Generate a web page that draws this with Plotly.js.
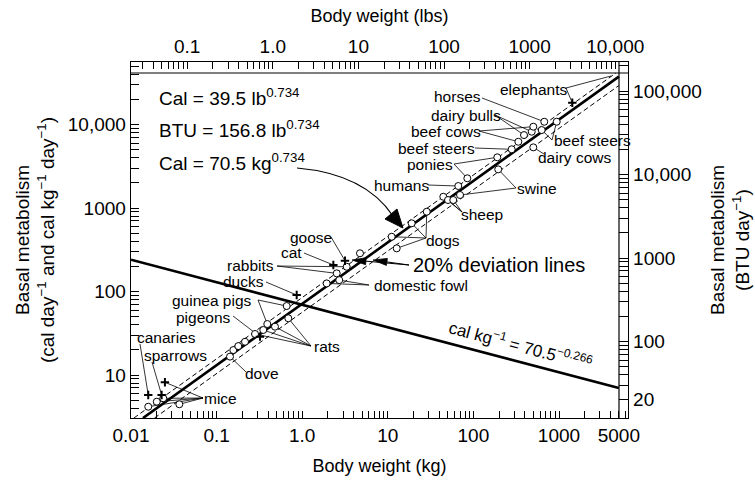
<!DOCTYPE html>
<html><head><meta charset="utf-8">
<script src="https://cdn.plot.ly/plotly-3.0.1.min.js"></script>
<style>body{margin:0;background:#fff}#c{width:755px;height:486px}</style>
</head><body><div id="c"></div>
<script>
// ---- data (kg body weight, kcal/day) ----
const circleKg  = [0.0159,0.0200,0.0238,0.0367,0.1434,0.1567,0.1792,0.2148,0.281,0.351,0.391,0.481,0.659,0.688,1.93,2.53,2.71,3.31,4.73,11.1,12.7,19.0,28.5,44.5,50.5,58.2,69.8,66.6,84.9,190,195,280,335,390,480,501,673,628,940,501];
const circleCal = [4.17,4.79,5.26,4.46,16.6,19.9,22.2,25.0,31.0,34.6,40.8,37.9,67.0,47.8,125,165,137,198,287,453,329,656,903,1365,1247,1247,1432,1834,2270,4050,2904,5050,6220,7480,8200,9420,10800,8590,10800,5330];
const crossKg  = [0.0159,0.0228,0.0249,0.321,0.862,2.31,3.16,1430];
const crossCal = [5.76,5.76,8.18,28.8,90.8,208,234,18200];
const fitKg = [0.0138,5000], fitCal = [3.05,37500];
const upperKg = [0.0108,4620], upperCal = [3.05,41400];
const lowerKg = [0.0188,5000], lowerCal = [3.05,29300];
const perKgKg = [0.01,5000], perKgCal = [240,7.0];
const kgTickVals = [0.01,0.1,1,10,100,1000,5000];
const kgTickText = ['0.01','0.1','1.0','10','100','1000','5000'];
const lbTickVals = [0.1,1,10,100,1000,10000];
const lbTickText = ['0.1','1.0','10','100','1000','10,000'];
const calTickVals = [10,100,1000,10000];
const calTickText = ['10','100','1000','10,000'];
const btuTickVals = [20,100,1000,10000,100000];
const btuTickText = ['20','100','1000','10,000','100,000'];
const animalNames = ['elephants','horses','dairy bulls','beef cows','beef steers','ponies','humans','swine','sheep','dogs','beef steers','dairy cows','goose','cat','rabbits','ducks','domestic fowl','guinea pigs','pigeons','rats','canaries','sparrows','dove','mice'];

// ---- layout geometry ----
const PX0=131, PX1=628, PY0=62, PY1=418;
const XR=[-2,3.806], YR=[0.485,4.749];
const LB=Math.log10(2.2046), BTU=Math.log10(3.968);
const xp=px=>(px-PX0)/(PX1-PX0), yp=py=>(PY1-py)/(PY1-PY0);
const vx=px=>Math.pow(10,XR[0]+(px-PX0)/(PX1-PX0)*(XR[1]-XR[0]));
const vy=py=>Math.pow(10,YR[1]-(py-PY0)/(PY1-PY0)*(YR[1]-YR[0]));
const FONT='Liberation Sans, Arial, Helvetica, sans-serif';

function minorTicks(lo,hi,vals,texts){
  const tv=[],tt=[];
  for(let e=lo;e<=hi;e++){for(let m=1;m<10;m++){const v=m*Math.pow(10,e);
    const i=vals.findIndex(a=>Math.abs(a-v)/v<1e-6);
    tv.push(v);tt.push(i>=0?texts[i]:'');}}
  vals.forEach((v,i)=>{if(!tv.some(a=>Math.abs(a-v)/v<1e-6)){tv.push(v);tt.push(texts[i]);}});
  return [tv,tt];
}
const [kx,kt]=minorTicks(-2,3,kgTickVals,kgTickText);
const [bx,bt]=minorTicks(-2,4,lbTickVals,lbTickText);
const [cy,ct]=minorTicks(0,4,calTickVals,calTickText);
const [uy,ut]=minorTicks(1,5,btuTickVals,btuTickText);

const traces=[
 {x:perKgKg,y:perKgCal,mode:'lines',line:{color:'#000',width:2.6},hoverinfo:'skip'},
 {x:upperKg,y:upperCal,mode:'lines',line:{color:'#000',width:1,dash:'5px,3px'},hoverinfo:'skip'},
 {x:lowerKg,y:lowerCal,mode:'lines',line:{color:'#000',width:1,dash:'5px,3px'},hoverinfo:'skip'},
 {x:fitKg,y:fitCal,mode:'lines',line:{color:'#000',width:2.6},hoverinfo:'skip'},
 {x:circleKg,y:circleCal,mode:'markers',marker:{symbol:'circle',size:7,color:'#fff',line:{color:'#000',width:1}}},
 {x:crossKg,y:crossCal,mode:'markers',marker:{symbol:'cross-thin',size:6,color:'#000',line:{color:'#000',width:2}}},
 {x:[lbTickVals[0]],y:[btuTickVals[1]],xaxis:'x2',yaxis:'y2',mode:'markers',marker:{opacity:0},hoverinfo:'skip'}
];

// label positions (px centres) and leader lines [tailX, tailY, 'c'|'x', index]
const labelPos=[[533,89],[457,97],[466,115],[446,131],[436,148],[430,164],[401,185],[537,188],[482,214],[443,240],[592,140],[574,157],[311,237],[291,253],[250,265],[243,281],[421,285],[212,300],[203,317],[327,346],[166,337],[175,355],[262,373],[220,398]];
const leaders=[[566,88,'x',7],[566,88,'x',7],[482,98,'c',36],[495,115,'c',33],[495,115,'c',34],[479,131,'c',32],[479,131,'c',35],[475,148,'c',31],
 [454,164,'c',28],[454,164,'c',29],[428,185,'c',27],[516,188,'c',30],[516,188,'c',26],[462,212,'c',23],[462,212,'c',24],[462,212,'c',25],
 [426,238,'c',19],[426,238,'c',20],[426,238,'c',21],[426,238,'c',22],[552,140,'c',37],[552,140,'c',38],[544,154,'c',39],
 [331,237,'x',6],[304,253,'x',5],[277,266,'c',15],[277,266,'c',17],[266,282,'x',4],[369,285,'c',14],[369,285,'c',16],
 [258,300,'c',10],[258,300,'c',12],[233,316,'x',3],[311,346,'c',8],[311,346,'c',9],[311,346,'c',11],[311,346,'c',13],
 [140,344,'x',0],[152,362,'x',1],[246,372,'c',4],[203,398,'c',0],[203,398,'c',1],[203,398,'c',2],[203,398,'c',3],[203,398,'x',2]];

const ann=[];
animalNames.forEach((n,i)=>ann.push({xref:'paper',yref:'paper',x:xp(labelPos[i][0]),y:yp(labelPos[i][1]),xanchor:'center',yanchor:'middle',text:n,showarrow:false,font:{size:15.5,color:'#000',family:FONT}}));
[['Cal = 39.5 lb<sup>0.734</sup>',97],['BTU = 156.8 lb<sup>0.734</sup>',129],['Cal = 70.5 kg<sup>0.734</sup>',162]].forEach(e=>
 ann.push({xref:'paper',yref:'paper',x:xp(157),y:yp(e[1]),xanchor:'left',yanchor:'middle',text:e[0],showarrow:false,font:{size:19,color:'#000',family:FONT}}));
ann.push({xref:'paper',yref:'paper',x:xp(411),y:yp(265),xanchor:'left',yanchor:'middle',text:'20% deviation lines',showarrow:false,font:{size:20,color:'#000',family:FONT}});
ann.push({xref:'paper',yref:'paper',x:xp(521),y:yp(345),xanchor:'center',yanchor:'middle',text:'cal kg<sup>−1</sup> = 70.5<sup>−0.266</sup>',textangle:15,showarrow:false,font:{size:17,color:'#000',family:FONT}});

const shapes=[
 {type:'line',xref:'paper',yref:'paper',x0:xp(619),x1:xp(619),y0:0,y1:1,line:{color:'#000',width:1.2}},
 {type:'line',xref:'paper',yref:'paper',x0:0,x1:1,y0:yp(73),y1:yp(73),line:{color:'#000',width:1.2}},
 {type:'path',xref:'paper',yref:'paper',path:`M ${xp(297)} ${yp(168)} Q ${xp(365)} ${yp(174)} ${xp(393)} ${yp(216)}`,line:{color:'#000',width:1.2}},
 {type:'path',xref:'paper',yref:'paper',path:`M ${xp(385)} ${yp(219)} L ${xp(397)} ${yp(209)} L ${xp(403)} ${yp(228)} Z`,fillcolor:'#000',line:{color:'#000',width:1}},
 {type:'line',xref:'paper',yref:'paper',x0:xp(409),y0:yp(265),x1:xp(362),y1:yp(260.8),line:{color:'#000',width:1}},
 {type:'line',xref:'paper',yref:'paper',x0:xp(409),y0:yp(265),x1:xp(383),y1:yp(261.4),line:{color:'#000',width:1}},
 {type:'path',xref:'paper',yref:'paper',path:`M ${xp(352)} ${yp(260)} L ${xp(366.2)} ${yp(257.7)} L ${xp(365.6)} ${yp(264.7)} Z`,fillcolor:'#000',line:{color:'#000',width:0.8}},
 {type:'path',xref:'paper',yref:'paper',path:`M ${xp(373)} ${yp(260)} L ${xp(387.4)} ${yp(258.4)} L ${xp(386.4)} ${yp(265.4)} Z`,fillcolor:'#000',line:{color:'#000',width:0.8}}
];
leaders.forEach((l,k)=>{let kg=l[2]==='c'?circleKg[l[3]]:crossKg[l[3]];let cal=l[2]==='c'?circleCal[l[3]]:crossCal[l[3]];
 if(k===1){kg=vx(611);cal=vy(76);}  // second elephant leader runs to the upper-right corner
 shapes.push({type:'line',layer:'below',xref:'x',yref:'y',x0:kg,y0:cal,x1:vx(l[0]),y1:vy(l[1]),line:{color:'#000',width:0.8}});});

const axBase={type:'log',showgrid:false,zeroline:false,showline:true,linecolor:'#000',linewidth:1.3,ticks:'inside',tickcolor:'#000',tickwidth:1,tickfont:{size:19,color:'#000',family:FONT},tickmode:'array'};
const layout={
 width:755,height:486,margin:{l:PX0,r:755-PX1,t:PY0,b:486-PY1},paper_bgcolor:'#fff',plot_bgcolor:'rgba(0,0,0,0)',showlegend:false,
 font:{family:FONT,color:'#000'},
 xaxis:Object.assign({},axBase,{range:XR,tickvals:kx,ticktext:kt,ticklen:7,title:{text:'Body weight (kg)',font:{size:18,family:FONT},standoff:14}}),
 xaxis2:Object.assign({},axBase,{overlaying:'x',side:'top',anchor:'y',range:[XR[0]+LB,XR[1]+LB],tickvals:bx,ticktext:bt,ticklen:7,title:{text:'Body weight (lbs)',font:{size:18,family:FONT},standoff:8}}),
 yaxis:Object.assign({},axBase,{range:YR,tickvals:cy,ticktext:ct,ticklen:8,title:{text:'Basal metabolism<br>(cal day<sup>−1</sup> and cal kg<sup>−1</sup> day<sup>−1</sup>)',font:{size:19,family:FONT},standoff:8}}),
 yaxis2:Object.assign({},axBase,{overlaying:'y',side:'right',anchor:'x',range:[YR[0]+BTU,YR[1]+BTU],tickvals:uy,ticktext:ut,ticklen:9,title:{text:'Basal metabolism<br>(BTU day<sup>−1</sup>)',font:{size:19,family:FONT},standoff:10}}),
 annotations:ann,shapes:shapes
};
Plotly.newPlot('c',traces,layout,{displayModeBar:false,staticPlot:true});
</script></body></html>
